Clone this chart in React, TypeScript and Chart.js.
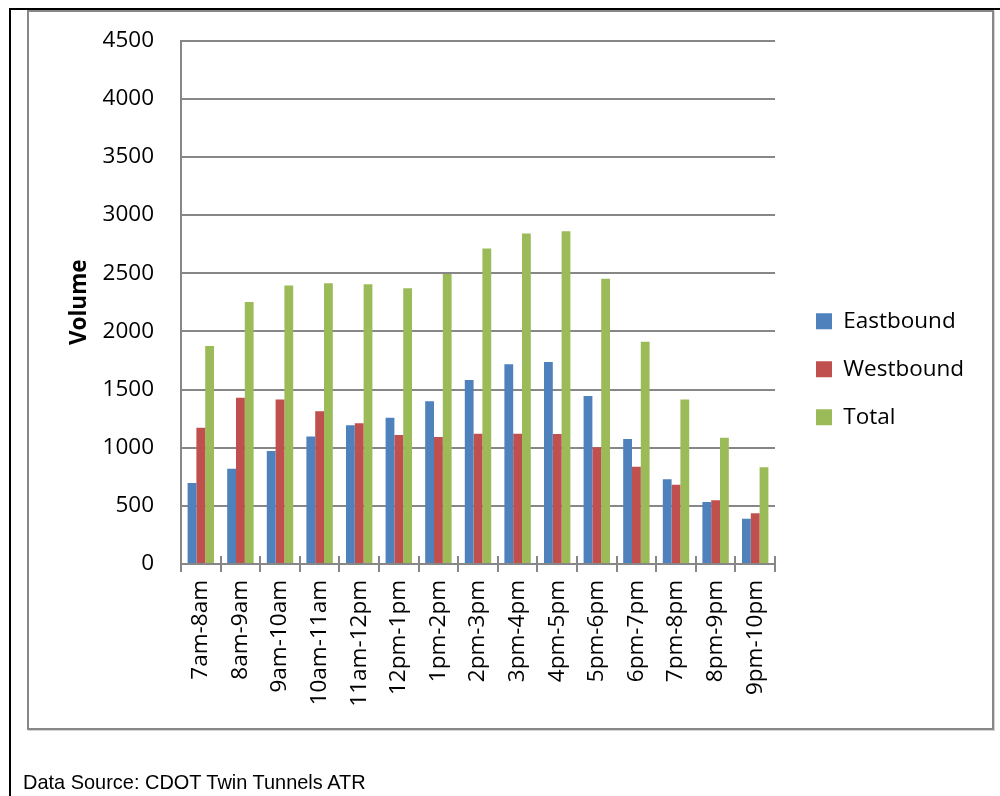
import React, { useEffect, useRef } from 'react';
import { Chart, registerables } from 'chart.js';

Chart.register(...registerables);

const categories = [
  '7am-8am', '8am-9am', '9am-10am', '10am-11am', '11am-12pm', '12pm-1pm', '1pm-2pm',
  '2pm-3pm', '3pm-4pm', '4pm-5pm', '5pm-6pm', '6pm-7pm', '7pm-8pm', '8pm-9pm', '9pm-10pm',
];
const eastbound = [696, 819, 971, 1097, 1192, 1258, 1398, 1582, 1716, 1736, 1444, 1074, 728, 533, 390];
const westbound = [1172, 1430, 1415, 1312, 1209, 1109, 1092, 1120, 1120, 1117, 1003, 837, 682, 547, 436];
const total = [1874, 2252, 2393, 2413, 2404, 2370, 2493, 2711, 2842, 2860, 2453, 1911, 1413, 1086, 831];
const seriesNames = ['Eastbound', 'Westbound', 'Total'];
const yMin = 0;
const yMax = 4500;
const yStep = 500;
const yTitle = 'Volume';
const sourceNote = 'Data Source: CDOT Twin Tunnels ATR';

const COLORS = ['#4F81BD', '#C0504D', '#9BBB59'];
const GRID = '#878787';
const FONT = "'Open Sans', 'Noto Sans', sans-serif";

if (typeof document !== 'undefined') {
  document.body.style.margin = '0';
  document.body.style.overflow = 'hidden';
}

const innerTicks = {
  id: 'innerTicks',
  afterDatasetsDraw(chart: any) {
    const xs = chart.scales.x;
    const ctx = chart.ctx;
    const b = chart.chartArea.bottom;
    ctx.save();
    ctx.strokeStyle = GRID;
    ctx.lineWidth = 2;
    for (let i = 0; i <= categories.length; i++) {
      const px = Math.round(xs.getPixelForValue(i - 0.5));
      ctx.beginPath();
      ctx.moveTo(px, b - 8);
      ctx.lineTo(px, b);
      ctx.stroke();
    }
    ctx.restore();
  },
};

const legendPlace = {
  id: 'legendPlace',
  afterLayout(chart: any) {
    const lg = chart.legend;
    if (!lg) return;
    const h = lg.height;
    lg.left = 790.5;
    lg.width = 205;
    lg.right = lg.left + lg.width;
    lg.top = 284.5;
    lg.bottom = lg.top + h;
  },
};

export default function App() {
  const ref = useRef<HTMLCanvasElement | null>(null);

  useEffect(() => {
    if (!ref.current) return;
    const chart = new Chart(ref.current, {
      type: 'bar',
      data: {
        labels: categories,
        datasets: [
          { label: seriesNames[0], data: eastbound, backgroundColor: COLORS[0] },
          { label: seriesNames[1], data: westbound, backgroundColor: COLORS[1] },
          { label: seriesNames[2], data: total, backgroundColor: COLORS[2] },
        ],
      },
      options: {
        responsive: false,
        animation: false,
        devicePixelRatio: 1,
        layout: { padding: { left: 0, top: 40, right: 75, bottom: 0 } },
        datasets: {
          bar: { categoryPercentage: 0.667, barPercentage: 1.0, borderWidth: 0 },
        },
        scales: {
          x: {
            offset: true,
            grid: {
              display: true,
              offset: true,
              drawOnChartArea: false,
              drawTicks: true,
              tickLength: 8,
              color: GRID,
              lineWidth: 2,
            },
            border: { display: true, color: GRID, width: 2 },
            ticks: {
              autoSkip: false,
              maxRotation: 90,
              minRotation: 90,
              padding: 8,
              color: '#000',
              font: { family: FONT, size: 22.5 },
            },
            afterFit: (s: any) => {
              s.height = 232;
            },
          },
          y: {
            min: yMin,
            max: yMax,
            ticks: {
              stepSize: yStep,
              padding: 27,
              color: '#000',
              font: { family: FONT, size: 22.5 },
              callback: (v: any) => String(v),
            },
            grid: { color: GRID, lineWidth: 2, drawTicks: false },
            border: { display: true, color: GRID, width: 2 },
            title: {
              display: true,
              text: yTitle,
              color: '#000',
              font: { family: FONT, size: 22.5, weight: 'bold' },
              padding: { top: 66, bottom: 0 },
            },
            afterFit: (s: any) => {
              s.width = 181;
            },
          },
        },
        plugins: {
          legend: {
            display: true,
            position: 'right',
            align: 'start',
            maxWidth: 150,
            labels: {
              boxWidth: 16,
              boxHeight: 16,
              padding: 25.5,
              color: '#000',
              font: { family: FONT, size: 22.5 },
            },
          },
          tooltip: { enabled: false },
          title: { display: false },
        },
      },
      plugins: [innerTicks, legendPlace],
    } as any);
    return () => chart.destroy();
  }, []);

  return (
    <div style={{ position: 'relative', width: 1000, height: 796, background: '#fff', overflow: 'hidden' }}>
      <div style={{ position: 'absolute', left: 9, top: 8, width: 991, height: 2, background: '#000' }} />
      <div style={{ position: 'absolute', left: 9, top: 8, width: 2, height: 788, background: '#000' }} />
      <div
        style={{
          position: 'absolute',
          left: 27,
          top: 10,
          width: 963,
          height: 716,
          border: '2px solid #888888',
          boxShadow: '1px 1px 0 #d4d4d4',
        }}
      />
      <canvas
        ref={ref}
        width={1000}
        height={796}
        style={{ position: 'absolute', left: 0, top: 0, width: 1000, height: 796 }}
      />
      <div
        style={{
          position: 'absolute',
          left: 22.5,
          top: 771,
          fontFamily: "'Liberation Sans', Arial, sans-serif",
          fontSize: 21,
          lineHeight: '21px',
          color: '#000',
          whiteSpace: 'nowrap',
          transform: 'scaleX(0.95)',
          transformOrigin: 'left top',
        }}
      >
        {sourceNote}
      </div>
    </div>
  );
}
